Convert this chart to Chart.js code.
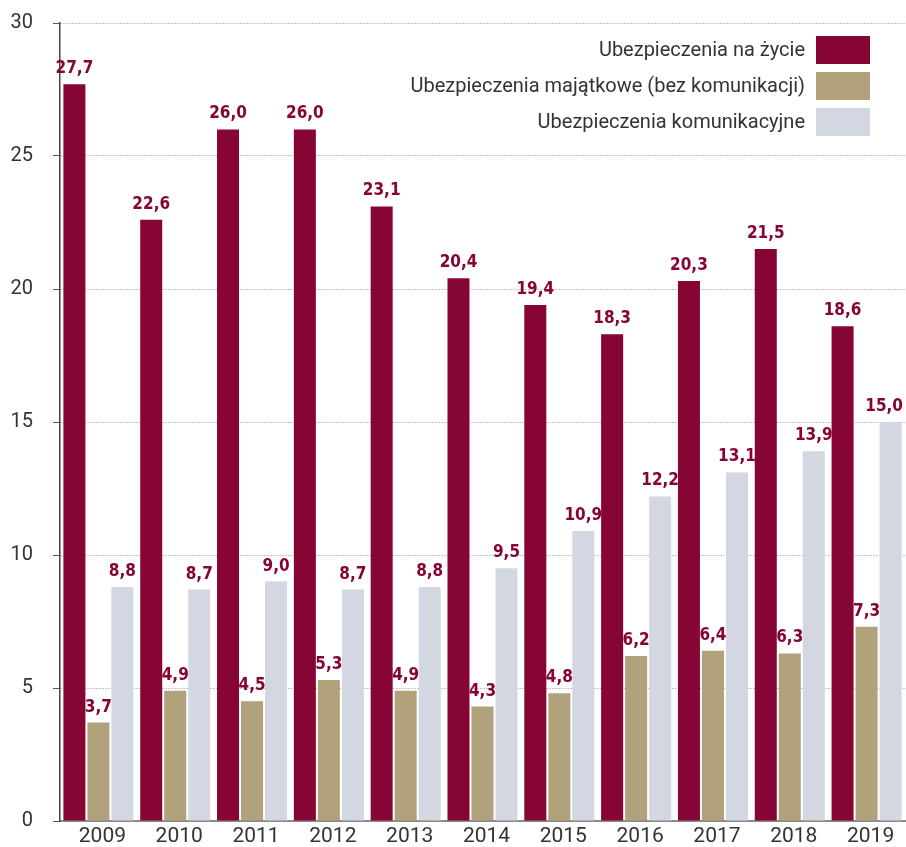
<!DOCTYPE html>
<html>
<head>
<meta charset="utf-8">
<script src="https://cdn.jsdelivr.net/npm/chart.js@4"></script>
<style>
  html, body { margin: 0; padding: 0; background: #fff; }
  #wrap { width: 906px; height: 847px; }
</style>
</head>
<body>
<div id="wrap"><canvas id="myChart" width="906" height="847"></canvas></div>
<script>
// chart data
var years = ['2009', '2010', '2011', '2012', '2013', '2014', '2015', '2016', '2017', '2018', '2019'];
var seriesNames = ['Ubezpieczenia na życie', 'Ubezpieczenia majątkowe (bez komunikacji)', 'Ubezpieczenia komunikacyjne'];
var lifeValues = [27.7, 22.6, 26.0, 26.0, 23.1, 20.4, 19.4, 18.3, 20.3, 21.5, 18.6];
var propertyValues = [3.7, 4.9, 4.5, 5.3, 4.9, 4.3, 4.8, 6.2, 6.4, 6.3, 7.3];
var motorValues = [8.8, 8.7, 9.0, 8.7, 8.8, 9.5, 10.9, 12.2, 13.1, 13.9, 15.0];
var yTicks = [0, 5, 10, 15, 20, 25, 30];

var colors = ['#870535', '#b1a27b', '#d3d7e2'];
var labelColor = '#870535';
var textColor = '#333333';

// value labels over every bar, comma as decimal mark
var valueLabels = {
    id: 'valueLabels',
    afterDatasetsDraw: function(chart) {
        var ctx = chart.ctx;
        ctx.save();
        ctx.font = 'bold 17px "Liberation Sans Narrow", "DejaVu Sans Condensed", sans-serif';
        ctx.fillStyle = labelColor;
        ctx.textAlign = 'center';
        ctx.textBaseline = 'bottom';
        chart.data.datasets.forEach(function(ds, i) {
            chart.getDatasetMeta(i).data.forEach(function(bar, j) {
                var txt = ds.data[j].toFixed(1).replace('.', ',');
                var half = ctx.measureText(txt).width / 2;
                var x = Math.min(bar.x, chart.width - 3 - half);
                ctx.fillText(txt, x, bar.y - 7);
            });
        });
        ctx.restore();
    }
};

// legend at top right: text first, colour box after it
var rightLegend = {
    id: 'rightLegend',
    afterDraw: function(chart) {
        var ctx = chart.ctx;
        var boxX = 816, boxW = 54, boxH = 28;
        ctx.save();
        ctx.font = '20px Roboto, sans-serif';
        ctx.textAlign = 'right';
        ctx.textBaseline = 'middle';
        chart.data.datasets.forEach(function(ds, i) {
            var top = 36 + i * 36;
            ctx.fillStyle = ds.backgroundColor;
            ctx.fillRect(boxX, top, boxW, boxH);
            ctx.fillStyle = textColor;
            ctx.fillText(ds.label, boxX - 11, top + boxH / 2 + 1);
        });
        ctx.restore();
    }
};

var ctx = document.getElementById('myChart').getContext('2d');
var myChart = new Chart(ctx, {
    type: 'bar',
    data: {
        labels: years,
        datasets: [
            { label: seriesNames[0], data: lifeValues, backgroundColor: colors[0] },
            { label: seriesNames[1], data: propertyValues, backgroundColor: colors[1] },
            { label: seriesNames[2], data: motorValues, backgroundColor: colors[2] }
        ]
    },
    options: {
        responsive: false,
        animation: false,
        layout: { padding: { top: 23, right: 1, bottom: 0, left: 0 } },
        datasets: {
            bar: { categoryPercentage: 0.9375, barPercentage: 0.917 }
        },
        plugins: {
            legend: { display: false },
            tooltip: { enabled: false }
        },
        scales: {
            x: {
                grid: { display: false, drawTicks: false },
                border: { display: true, color: '#8a8a8a', width: 2 },
                ticks: {
                    color: textColor,
                    font: { family: 'Roboto', size: 21 },
                    padding: 3,
                    labelOffset: 4
                },
                afterFit: function(scale) { scale.height = 26; }
            },
            y: {
                min: 0,
                max: 30,
                afterBuildTicks: function(scale) {
                    scale.ticks = yTicks.map(function(v) { return { value: v }; });
                },
                grid: {
                    color: '#888888',
                    lineWidth: 1,
                    tickColor: '#555555',
                    tickLength: 7,
                    tickBorderDash: []
                },
                border: { display: true, color: '#444444', width: 1.5, dash: [1, 2] },
                ticks: {
                    color: textColor,
                    font: { family: 'Roboto', size: 20 },
                    padding: 20
                },
                afterFit: function(scale) {
                    scale.width = 60;
                    scale.paddingTop = 0;
                    scale.paddingBottom = 0;
                }
            }
        }
    },
    plugins: [valueLabels, rightLegend]
});
</script>
</body>
</html>
